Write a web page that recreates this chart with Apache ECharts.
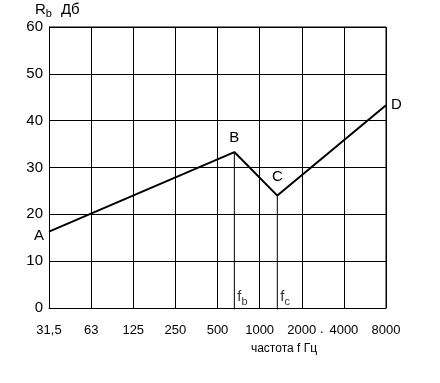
<!DOCTYPE html>
<html><head><meta charset="utf-8">
<script src="https://cdn.jsdelivr.net/npm/echarts@6/dist/echarts.min.js"></script>
<style>html,body{margin:0;padding:0;background:#fff}#c{width:440px;height:383px}</style>
</head><body><div id="c"></div>
<script>
// octave-band tick labels (Hz)
const freqLabels = ['31,5','63','125','250','500','1000','2000','4000','8000'];
// curve points: position on octave scale (0 = 31,5 Hz) and Rb in dB
const pointNames = ['A','B','C','D'];
const pointX = [0, 4.4, 5.42, 8];
const pointY = [16.3, 33.3, 24, 43.3];
// characteristic frequencies fb, fc (octave scale positions)
const markNames = ['b','c'];
const markX = [4.4, 5.42];
const markY = [33.3, 24];

const font = 'Liberation Sans, Arial, sans-serif';
const chart = echarts.init(document.getElementById('c'));

const labelPos = {A:{position:'left',distance:5,offset:[0,4]}, B:{position:'top',distance:7}, C:{position:'top',distance:11}, D:{position:'right',distance:5}};
const curve = pointX.map((x,i)=>({value:[x,pointY[i]], name:pointNames[i],
  label:Object.assign({show:true, formatter:pointNames[i], fontSize:15, color:'#000', fontFamily:font}, labelPos[pointNames[i]])}));

const series = [{
  type:'line', data:curve, symbol:'circle', symbolSize:0, showSymbol:true,
  lineStyle:{color:'#000', width:2}, itemStyle:{color:'#000'}, z:5
}];
markX.forEach((x,i)=>{
  series.push({type:'line', data:[[x,markY[i]],[x,-0.3]], symbol:'none', clip:false,
    lineStyle:{color:'#000', width:1}, z:4});
  series.push({type:'scatter', data:[[x,0]], symbolSize:0, z:6,
    label:{show:true, position:'right', distance:3, offset:[0,-11],
      formatter:'{f|f}{s|'+markNames[i]+'}',
      rich:{f:{fontSize:15, color:'#000', fontFamily:font}, s:{fontSize:11, color:'#000', fontFamily:font, padding:[9,0,0,0]}}}});
});

chart.setOption({
  animation:false,
  grid:{left:49, top:27, right:54, bottom:75, show:false},
  xAxis:{type:'value', min:0, max:8, interval:1,
    axisLine:{show:true, lineStyle:{color:'#000', width:1}},
    axisTick:{show:false},
    splitLine:{show:true, lineStyle:{color:'#000', width:1}},
    axisLabel:{color:'#000', fontSize:13, fontFamily:font, margin:16,
      formatter:v=>freqLabels[Math.round(v)]},
    name:'частота f Гц', nameLocation:'middle', nameGap:35,
    nameTextStyle:{color:'#000', fontSize:12, fontFamily:font, padding:[0,0,0,133]}
  },
  yAxis:{type:'value', min:0, max:60, interval:10,
    axisLine:{show:true, lineStyle:{color:'#000', width:1}},
    axisTick:{show:false},
    splitLine:{show:true, lineStyle:{color:'#000', width:1}},
    axisLabel:{color:'#000', fontSize:15, fontFamily:font, margin:6},
    name:'{r|R}{s|b}{g|Дб}', nameLocation:'end', nameGap:4,
    nameTextStyle:{align:'left', padding:[0,0,0,-14],
      rich:{r:{fontSize:15, color:'#000', fontFamily:font}, g:{fontSize:15, color:'#000', fontFamily:font, padding:[0,0,0,9]}, s:{fontSize:11, color:'#000', fontFamily:font, padding:[8,0,0,0]}}}
  },
  graphic:[{type:'line', shape:{x1:386,y1:27,x2:386,y2:308}, style:{stroke:'#000', lineWidth:1}},
    {type:'line', shape:{x1:49,y1:27,x2:386,y2:27}, style:{stroke:'#000', lineWidth:1}},
    {type:'text', left:320, top:323, style:{text:'.', fontSize:13, fill:'#000', font:'13px '+font}}],
  series
});
</script></body></html>
